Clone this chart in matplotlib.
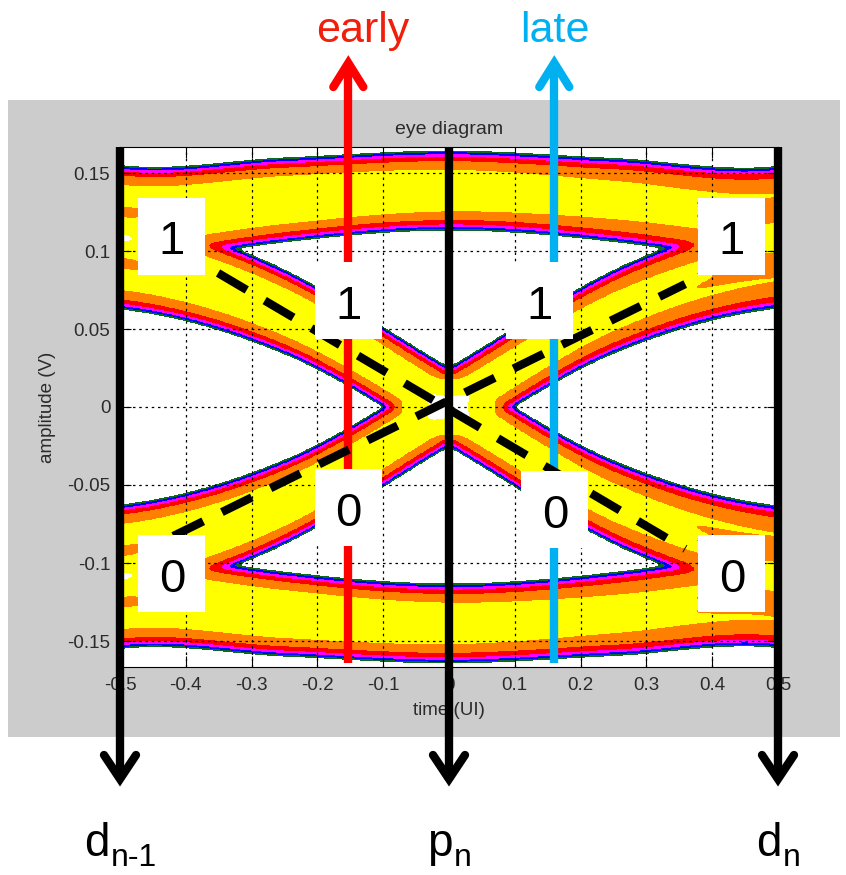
import numpy as np
import matplotlib
matplotlib.use("Agg")
import matplotlib.pyplot as plt
from matplotlib.colors import ListedColormap, BoundaryNorm
from matplotlib.patches import Rectangle

plt.rcParams['font.family'] = ['Liberation Sans', 'DejaVu Sans']

# channel pulse response (V) vs. offset from the bit centre (UI), mirrored for t < 0
pulse_offset = [0.0, 0.25, 0.5, 0.75, 1.0, 1.25, 1.5, 2.0, 2.5, 3.0, 3.5, 4.0]
pulse_amp = [0.109, 0.097, 0.0695, 0.036, 0.0135, 0.0080, 0.0058, 0.0042,
             0.0026, 0.0016, 0.0008, 0.0]
noise_sigma = 0.003
# relative hit count across the UI
gain_x = [-0.5, -0.2, 0.1, 0.5]
gain = [1.0, 1.0, 0.86, 0.62]

# density bins (fraction of peak) and their colours
density_levels = [0.002, 0.005, 0.012, 0.03, 0.09, 0.23, 0.7]
density_colors = ['#ffffff', '#0b6a1c', '#0000ff', '#ff00ff', '#ff0000',
                  '#ff8000', '#ffff00', '#ffffff']

xticks = [-0.5, -0.4, -0.3, -0.2, -0.1, 0.0, 0.1, 0.2, 0.3, 0.4, 0.5]
xticklabels = ['-0.5', '-0.4', '-0.3', '-0.2', '-0.1', '0', '0.1', '0.2',
               '0.3', '0.4', '0.5']
yticks = [-0.15, -0.1, -0.05, 0.0, 0.05, 0.1, 0.15]
yticklabels = ['-0.15', '-0.1', '-0.05', '0', '0.05', '0.1', '0.15']

# sampling instants
data_x = [-0.5, 0.0, 0.5]
data_base = ['d', 'p', 'd']
data_sub = ['n-1', 'n', 'n']
early_x = -0.153
late_x = 0.16

# bit values read at each instant
bit_boxes = [(-0.421, 0.1096, '1'), (-0.153, 0.068, '1'), (0.137, 0.068, '1'),
             (0.430, 0.1096, '1'), (-0.421, -0.107, '0'), (-0.153, -0.0647, '0'),
             (0.161, -0.066, '0'), (0.430, -0.107, '0')]
# linear paths through the crossing
dash_paths = [((-0.351, 0.0859), (0.359, -0.091)),
              ((-0.419, -0.0827), (0.359, 0.0788))]


def smooth_interp(xq, xs, ys):
    xs = np.asarray(xs, float)
    ys = np.asarray(ys, float)
    m = np.gradient(ys, xs)
    i = np.clip(np.searchsorted(xs, xq) - 1, 0, len(xs) - 2)
    h = xs[i + 1] - xs[i]
    s = np.clip((xq - xs[i]) / h, 0, 1)
    h00 = 2 * s**3 - 3 * s**2 + 1
    h10 = s**3 - 2 * s**2 + s
    h01 = -2 * s**3 + 3 * s**2
    h11 = s**3 - s**2
    return h00 * ys[i] + h10 * h * m[i] + h01 * ys[i + 1] + h11 * h * m[i + 1]


def pulse(dt):
    a = np.abs(dt)
    out = smooth_interp(np.minimum(a, pulse_offset[-1]), pulse_offset, pulse_amp)
    return np.where(a >= pulse_offset[-1], 0.0, out)


# every 8-bit pattern around the observed window
t = np.linspace(-0.5, 0.5, 600)
v = np.linspace(-1 / 6, 1 / 6, 520)
centres = np.arange(-3.5, 4.0, 1.0)
bits = ((np.arange(2 ** len(centres))[:, None] >> np.arange(len(centres))) & 1) * 2 - 1
resp = pulse(t[None, :] - centres[:, None])
traces = bits @ resp

dens = np.zeros((len(v), len(t)))
for tr in traces:
    dens += np.exp(-0.5 * ((v[:, None] - tr[None, :]) / noise_sigma) ** 2)
dens *= np.interp(t, gain_x, gain)[None, :]
dens /= dens.max()

W, H = 846, 875
fig = plt.figure(figsize=(W / 100, H / 100), dpi=100)
fig.add_artist(Rectangle((8 / W, 1 - 737 / H), 832 / W, 637 / H,
                         transform=fig.transFigure, facecolor='#cccccc',
                         edgecolor='none', zorder=-1))

ax = fig.add_axes([120 / W, 1 - 667 / H, 658 / W, 520 / H])
cmap = ListedColormap(density_colors)
norm = BoundaryNorm([0.0] + density_levels + [1.01], cmap.N)
ax.imshow(dens, extent=[-0.5, 0.5, -1 / 6, 1 / 6], origin='lower', aspect='auto',
          cmap=cmap, norm=norm, interpolation='nearest', zorder=0)
ax.set_xlim(-0.5, 0.5)
ax.set_ylim(-1 / 6, 1 / 6)
ax.set_xticks(xticks)
ax.set_xticklabels(xticklabels)
ax.set_yticks(yticks)
ax.set_yticklabels(yticklabels)
ax.tick_params(direction='in', length=8, width=0.8, top=True, right=True,
               labelsize=13.5, labelcolor='#2b2b2b', pad=7)
ax.grid(True, color='black', linestyle=(0, (2, 3)), linewidth=0.9)
for sp in ax.spines.values():
    sp.set_linewidth(0.8)
ax.set_title('eye diagram', fontsize=14, color='#2b2b2b', pad=9)
ax.set_xlabel('time (UI)', fontsize=13.5, color='#2b2b2b', labelpad=6)
ax.set_ylabel('amplitude (V)', fontsize=13.5, color='#2b2b2b', labelpad=8)

# overlay in pixel units for the annotations
ov = fig.add_axes([0, 0, 1, 1], zorder=5)
ov.set_xlim(0, W)
ov.set_ylim(H, 0)
ov.axis('off')
ov.patch.set_alpha(0)


def to_px(xd, yd=0.0):
    return ov.transData.inverted().transform(ax.transData.transform((xd, yd)))


renderer = fig.canvas.get_renderer()
inv = ov.transData.inverted()


def text_width(txt):
    bb = txt.get_window_extent(renderer)
    return inv.transform((bb.x1, 0))[0] - inv.transform((bb.x0, 0))[0]


top_px = to_px(0.0, 1 / 6)[1]
for xd, base, sub in zip(data_x, data_base, data_sub):
    px = to_px(xd)[0]
    ov.plot([px, px], [top_px, 780], color='black', lw=6, solid_capstyle='butt', zorder=2)
    ov.plot([px - 16, px, px + 16], [755, 779, 755], color='black', lw=6,
            solid_capstyle='round', solid_joinstyle='miter', zorder=2)
    tb = ov.text(0, 856, base, fontsize=33, ha='left', va='baseline', color='black')
    ts = ov.text(0, 866, sub, fontsize=23, ha='left', va='baseline', color='black')
    wb, ws = text_width(tb), text_width(ts)
    x0 = px - (wb + ws) / 2
    tb.set_x(x0)
    ts.set_x(x0 + wb + 1)

for xd, col, word, wx in [(early_x, '#ff0000', 'early', 363), (late_x, '#00b0f0', 'late', 555)]:
    px = to_px(xd)[0]
    ov.plot([px, px], [663, 64], color=col, lw=6, solid_capstyle='butt', zorder=2)
    ov.plot([px - 15, px, px + 15], [87, 63, 87], color=col, lw=6,
            solid_capstyle='round', solid_joinstyle='miter', zorder=2)
    ov.text(wx, 42, word, fontsize=31, ha='center', va='baseline',
            color='#f01e0a' if word == 'early' else col)

for (x0, y0), (x1, y1) in dash_paths:
    p0 = to_px(x0, y0)
    p1 = to_px(x1, y1)
    ov.plot([p0[0], p1[0]], [p0[1], p1[1]], color='black', lw=6,
            linestyle=(0, (4, 2.5)), dash_capstyle='butt', zorder=2.5)

for xd, yd, lab in bit_boxes:
    cx, cy = to_px(xd, yd)
    ov.add_patch(Rectangle((cx - 33.5, cy - 38.5), 67, 77, facecolor='white',
                           edgecolor='none', zorder=3))
    ov.text(cx, cy + 18, lab, fontsize=34, ha='center', va='baseline',
            color='black', zorder=4)

fig.savefig('out.png', dpi=100)
